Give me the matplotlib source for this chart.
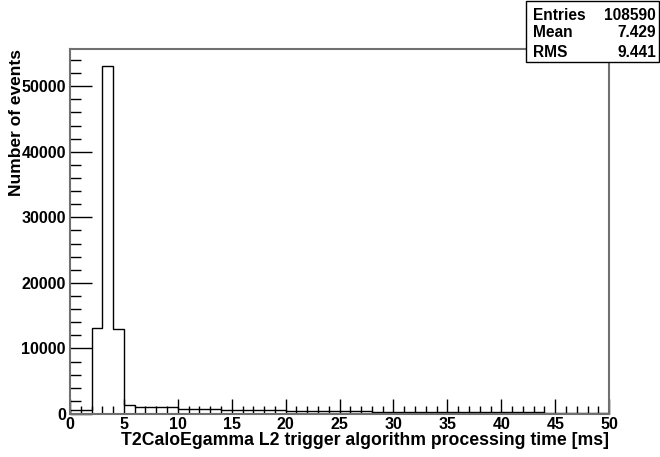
import numpy as np
import matplotlib
matplotlib.use('Agg')
import matplotlib.pyplot as plt
from matplotlib.patches import Rectangle
from matplotlib.ticker import MultipleLocator

# 1 ms bins from 0 to 50 ms
bin_edges = np.arange(0, 51, 1)
counts = [600, 600, 13200, 53100, 13000, 1350, 1100, 1000, 1000, 1000,
          800, 750, 750, 750, 550, 550, 550, 550, 550, 550,
          450, 450, 450, 450, 450, 450, 450, 450, 300, 300,
          300, 300, 300, 300, 300, 300, 300, 300, 300, 300,
          300, 300, 300, 300, 100, 100, 100, 100, 100, 100]

stats_names = ['Entries', 'Mean', 'RMS']
stats_values = ['108590', '7.429', '9.441']

xlabel = 'T2CaloEgamma L2 trigger algorithm processing time [ms]'
ylabel = 'Number of events'

plt.rcParams['font.family'] = ['Liberation Sans', 'DejaVu Sans']
plt.rcParams['font.weight'] = 'bold'

fig = plt.figure(figsize=(6.6, 4.57), dpi=100)
ax = fig.add_axes([0.106, 0.094, 0.817, 0.799])

ax.stairs(counts, bin_edges, color='black', linewidth=1.0)

ax.set_xlim(0, 50)
ax.set_ylim(0, 55700)

frame_color = '#707070'
for side in ax.spines.values():
    side.set_color(frame_color)
    side.set_linewidth(1.5)

ax.xaxis.set_major_locator(MultipleLocator(5))
ax.xaxis.set_minor_locator(MultipleLocator(1))
ax.yaxis.set_major_locator(MultipleLocator(10000))
ax.yaxis.set_minor_locator(MultipleLocator(2000))
ax.tick_params(axis='both', which='both', direction='in', color='black',
               width=1.0, labelsize=11.5)
ax.tick_params(axis='x', which='major', length=11, pad=2)
ax.tick_params(axis='x', which='minor', length=6)
ax.tick_params(axis='y', which='major', length=16, pad=3)
ax.tick_params(axis='y', which='minor', length=8)
for lab in ax.get_xticklabels() + ax.get_yticklabels():
    lab.set_fontweight('bold')

ax.set_xlabel(xlabel, fontsize=12.7, fontweight='bold', loc='right', labelpad=0)
ax.set_ylabel(ylabel, fontsize=12.5, fontweight='bold', loc='top', labelpad=-2)

# statistics box in the top right corner
fig.patches.append(Rectangle((0.797, 0.864), 0.2015, 0.134, transform=fig.transFigure,
                             facecolor='white', edgecolor='black', linewidth=1.0,
                             zorder=5))
row_y = [0.967, 0.928, 0.886]
for name, value, y in zip(stats_names, stats_values, row_y):
    fig.text(0.808, y, name, fontsize=11.2, fontweight='bold', va='center', ha='left', zorder=6)
    fig.text(0.994, y, value, fontsize=11.2, fontweight='bold', va='center', ha='right', zorder=6)

fig.savefig('out.png', dpi=100)
